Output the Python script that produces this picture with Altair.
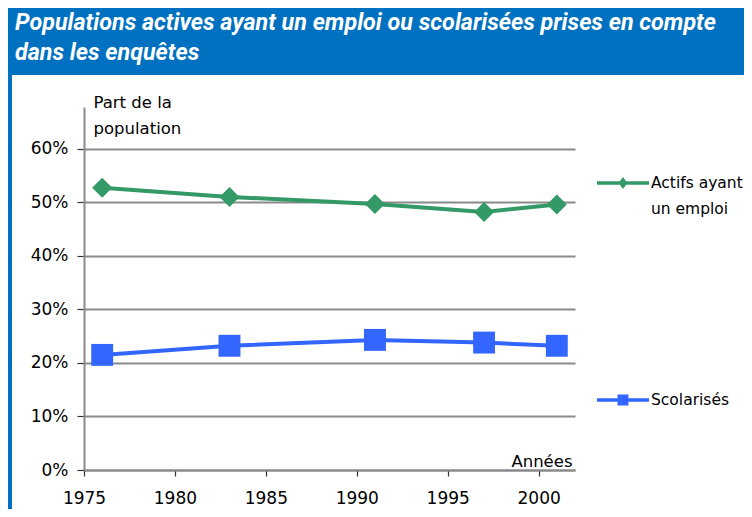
import altair as alt
import pandas as pd

# ---- data ----
years = [1976, 1983, 1991, 1997, 2001]
actifs = [0.527, 0.510, 0.497, 0.482, 0.496]
scolarises = [0.215, 0.232, 0.243, 0.238, 0.232]
series_names = ["Actifs ayant un emploi", "Scolarisés"]
series_colors = ["#339966", "#3366FF"]
series_markers = ["diamond", "square"]
y_ticks = [0, 0.1, 0.2, 0.3, 0.4, 0.5, 0.6]
x_ticks = [1975, 1980, 1985, 1990, 1995, 2000]
title_lines = ["Populations actives ayant un emploi ou scolarisées prises en compte",
               "dans les enquêtes"]
y_title = ["Part de la", "population"]
x_title = "Années"

rows = []
for s, vals in zip(series_names, [actifs, scolarises]):
    for yr, v in zip(years, vals):
        rows.append({"year": yr, "value": v, "series": s})
df = pd.DataFrame(rows)

FONT = "DejaVu Sans"
TITLE_FONT = "Roboto"
BAR_BLUE = "#0070C0"
GRID = "#8a8a8a"

# legend symbols: line segment + marker (custom paths in the [-1,1] box)
legend_paths = [
    "M-1,-0.257L1,-0.257L1,-0.123L-1,-0.123Z M0,-0.42L0.17,-0.19L0,0.04L-0.17,-0.19Z",
    "M-1,-0.257L1,-0.257L1,-0.123L-1,-0.123Z M-0.21,-0.40L0.21,-0.40L0.21,0.02L-0.21,0.02Z",
]

color_scale = alt.Scale(domain=series_names, range=series_colors)

x_axis = alt.Axis(
    values=x_ticks, format="d", title=x_title, grid=False, labelFlush=False,
    titleAlign="right", titleBaseline="alphabetic", titleX=488, titleY=-4,
    titleAngle=0, titleFont=FONT, titleFontSize=16.5, titleFontWeight="normal",
    titleColor="#000000",
    labelFont=FONT, labelFontSize=17, labelColor="#000000", labelPadding=14,
    tickSize=6, tickColor="#333333", tickWidth=1.2,
    domainColor=GRID, domainWidth=2,
)
y_axis = alt.Axis(
    values=y_ticks, format=".0%", title=y_title,
    titleAlign="left", titleBaseline="alphabetic", titleAngle=0,
    titleX=9, titleY=0, titleLineHeight=26,
    titleFont=FONT, titleFontSize=16.5, titleFontWeight="normal", titleColor="#000000",
    labelFont=FONT, labelFontSize=17, labelColor="#000000", labelPadding=9,
    tickSize=7, tickColor="#333333", tickWidth=1.2,
    grid=True, gridColor=GRID, gridWidth=2,
    domainColor=GRID, domainWidth=2,
)
x_scale = alt.Scale(domain=[1975, 2002], nice=False, zero=False)
y_scale = alt.Scale(domain=[0, 0.678], nice=False, zero=True)


def x_enc():
    return alt.X("year:Q", scale=x_scale, axis=x_axis, title=x_title)


def y_enc():
    return alt.Y("value:Q", scale=y_scale, axis=y_axis, title=y_title)


legend = alt.Legend(
    orient="none", legendX=513, legendY=55,
    symbolSize=2704, symbolStrokeWidth=0, symbolOpacity=1,
    rowPadding=161, labelOffset=2,
    labelFont=FONT, labelFontSize=15.5, labelColor="#000000",
    labelBaseline="alphabetic", labelLimit=200,
    labelExpr="datum.label == 'Actifs ayant un emploi' ? ['Actifs ayant', 'un emploi'] : datum.label",
)

deco = pd.DataFrame({"k": [0]})
title_bar = alt.Chart(deco).mark_rect(color=BAR_BLUE).encode(
    x=alt.value(-76), x2=alt.value(660), y=alt.value(-99), y2=alt.value(-32)
)
side_bar = alt.Chart(deco).mark_rect(color=BAR_BLUE).encode(
    x=alt.value(-76), x2=alt.value(-72), y=alt.value(-32), y2=alt.value(402)
)

series_layers = []
for name, col, marker, size in zip(series_names, series_colors, series_markers, [400, 480]):
    base = alt.Chart(df).transform_filter(alt.datum.series == name)
    series_layers.append(
        base.mark_line(strokeWidth=4, color=col).encode(x=x_enc(), y=y_enc())
    )
    series_layers.append(
        base.mark_point(filled=True, opacity=1, shape=marker, size=size, color=col)
        .encode(x=x_enc(), y=y_enc())
    )

# legend-only layer: draws no marks (empty after filter) but carries the legend
legend_provider = alt.Chart(df).transform_filter("false").mark_point(
    filled=True, opacity=1
).encode(
    x=x_enc(), y=y_enc(),
    color=alt.Color("series:N", scale=color_scale, title="", legend=legend),
    shape=alt.Shape("series:N", scale=alt.Scale(domain=series_names, range=legend_paths),
                    title="", legend=legend),
)

chart = (
    alt.layer(title_bar, side_bar, *series_layers, legend_provider)
    .properties(
        width=491, height=363,
        autosize=alt.AutoSizeParams(type="none"),
        padding={"left": 76, "top": 99, "right": 169, "bottom": 39},
        title=alt.TitleParams(
            text=title_lines, anchor="start", frame="group", orient="top",
            color="#ffffff", font=TITLE_FONT, fontSize=23.3, fontStyle="italic",
            fontWeight="bold", lineHeight=30, baseline="top", offset=30, dx=-69, dy=87,
        ),
    )
    .configure(style={"guide-label": {"lineHeight": 26}})
    .configure_view(stroke=None)
    .configure_axis(labelFont=FONT, labelFontSize=17, labelColor="#000000")
)

chart.save("out.html", embed_options={"renderer": "svg", "actions": False})
